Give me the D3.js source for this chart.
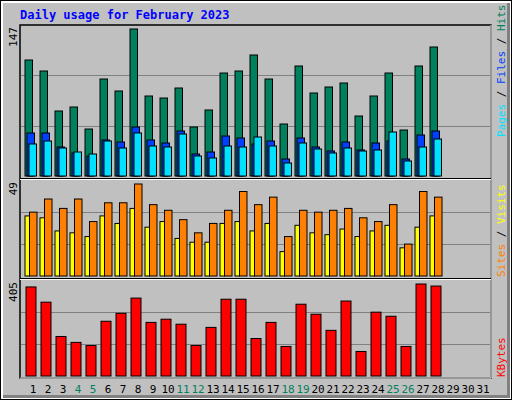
<!DOCTYPE html>
<html><head><meta charset="utf-8">
<script src="https://cdn.jsdelivr.net/npm/d3@7.9.0/dist/d3.min.js"></script>
<style>body{margin:0;background:#fff}svg{display:block}</style>
</head><body><div id="chart"></div>
<script>
const days = d3.range(1, 32);
const weekend = [4, 5, 11, 12, 18, 19, 25, 26];
const hits   = [116,105,65,69,47,97,85,147,80,78,88,49,66,103,105,121,97,52,110,83,89,93,60,80,103,46,110,129];
const files  = [43,43,29,23,20,36,34,49,36,33,45,22,24,40,38,32,35,17,38,29,25,34,26,33,35,17,41,45];
const pages  = [32,35,28,24,22,35,28,43,30,29,42,20,18,30,29,39,30,13,33,27,23,28,25,26,44,15,29,37];
const visits = [34,41,36,41,29,39,39,49,38,35,30,23,28,35,45,38,42,21,35,34,35,36,31,29,38,17,45,42];
const sites  = [32,31,24,23,21,32,28,36,26,29,20,18,18,28,29,24,28,13,27,23,22,25,21,24,27,15,26,32];
const kbytes = [392,325,174,148,134,241,276,343,236,250,228,134,214,338,338,165,236,130,316,272,201,330,108,281,263,130,405,396];

const W = 512, H = 400;
const svg = d3.select('#chart').append('svg').attr('width', W).attr('height', H)
  .style('font-family', '"DejaVu Sans Mono", monospace');

// frame
svg.append('rect').attr('x', 0).attr('y', 0).attr('width', W).attr('height', H).attr('fill', '#000');
svg.append('rect').attr('x', 1).attr('y', 1).attr('width', W - 2).attr('height', H - 2).attr('fill', '#fff');
svg.append('rect').attr('x', 3).attr('y', 3).attr('width', W - 5).attr('height', H - 5).attr('fill', '#808080');
svg.append('rect').attr('x', 3).attr('y', 3).attr('width', W - 8).attr('height', H - 8).attr('fill', '#c0c0c0');

svg.append('text').attr('x', 20).attr('y', 19).attr('fill', '#0000ff')
  .style('font-size', '12px').style('font-weight', 'bold').text('Daily usage for February 2023');

// plot area
svg.append('rect').attr('x', 20).attr('y', 25).attr('width', 471).attr('height', 353)
  .attr('fill', '#c0c0c0').attr('stroke', '#000').attr('stroke-width', 1.5);
svg.append('line').attr('x1', 491).attr('x2', 491).attr('y1', 25).attr('y2', 378).attr('stroke', '#fff');
svg.append('line').attr('x1', 20).attr('x2', 491).attr('y1', 378).attr('y2', 378).attr('stroke', '#fff');

const x = d3.scaleBand().domain(days).range([23.5, 488.5]);

const panels = [
  {top: 25, bottom: 176, max: 147},
  {top: 180, bottom: 276, max: 49},
  {top: 280, bottom: 376, max: 405}
];
panels.forEach((p, i) => {
  p.y = d3.scaleLinear().domain([0, p.max]).range([p.bottom, p.top + 4]);
  const frac = d3.scaleLinear().domain([0, 3]).range([p.bottom, p.top]);
  [1, 2].forEach(k => svg.append('line').attr('x1', 21).attr('x2', 490)
    .attr('y1', Math.round(frac(k)) + 0.5).attr('y2', Math.round(frac(k)) + 0.5).attr('stroke', '#808080'));
  if (i > 0) {
    svg.append('line').attr('x1', 20).attr('x2', 491).attr('y1', p.top - 1.5).attr('y2', p.top - 1.5).attr('stroke', '#000');
    svg.append('line').attr('x1', 20).attr('x2', 491).attr('y1', p.top - 0.5).attr('y2', p.top - 0.5).attr('stroke', '#fff');
  }
  svg.append('text').attr('transform', `translate(17,${p.top + 2}) rotate(-90)`)
    .attr('text-anchor', 'end').style('font-size', '11px').attr('fill', '#000').text(p.max);
});

function bars(vals, p, off, w, color) {
  svg.append('g').selectAll('rect').data(vals).join('rect')
    .attr('x', (d, i) => x(i + 1) + off)
    .attr('y', d => p.y(d))
    .attr('width', w)
    .attr('height', d => p.bottom - p.y(d))
    .attr('fill', color).attr('stroke', '#000').attr('stroke-width', 1);
}
bars(hits, panels[0], 1.5, 7.5, '#00805c');
bars(files, panels[0], 3.5, 7.5, '#0040ff');
bars(pages, panels[0], 5.5, 7.5, '#00e0ff');
bars(sites, panels[1], 1.5, 4.5, '#ffff00');
bars(visits, panels[1], 6, 7.5, '#ff8000');
bars(kbytes, panels[2], 2.5, 10, '#ff0000');

// day labels
svg.append('g').selectAll('text').data(days).join('text')
  .attr('x', d => x(d) + x.bandwidth() / 2 + 2).attr('y', 393)
  .attr('text-anchor', 'middle').style('font-size', '11px')
  .attr('fill', d => weekend.includes(d) ? '#00805c' : '#000').text(d => d);

// right side legends
function legend(parts, yBottom) {
  const t = svg.append('text').attr('transform', `translate(505,${yBottom}) rotate(-90)`)
    .style('font-size', '11px');
  parts.forEach(([s, c]) => t.append('tspan').attr('fill', c).text(s));
}
legend([['Pages', '#00e0ff'], [' / ', '#000'], ['Files', '#0040ff'], [' / ', '#000'], ['Hits', '#00805c']], 137);
legend([['Sites', '#ff8000'], [' / ', '#000'], ['Visits', '#ffff00']], 277);
legend([['KBytes', '#ff0000']], 377);
</script></body></html>
